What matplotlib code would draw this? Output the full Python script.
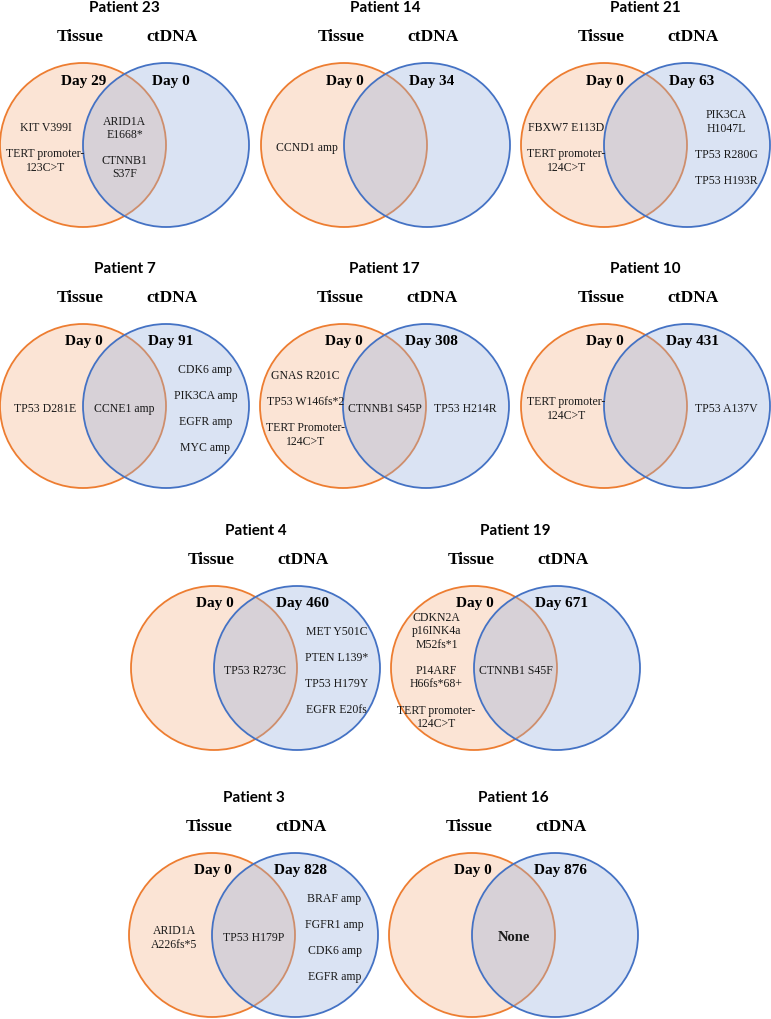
import matplotlib
matplotlib.use("Agg")
import matplotlib.pyplot as plt
from matplotlib.patches import Ellipse

# patient data
patients = [23, 14, 21, 7, 17, 10, 4, 19, 3, 16]
tissue_days = [29, 0, 0, 0, 0, 0, 0, 0, 0, 0]
ctdna_days = [0, 34, 63, 91, 308, 431, 460, 671, 828, 876]

tissue_only = [
    ["KIT V399I", "TERT promoter-\n123C>T"],
    ["CCND1 amp"],
    ["FBXW7 E113D", "TERT promoter-\n124C>T"],
    ["TP53 D281E"],
    ["GNAS R201C", "TP53 W146fs*2", "TERT Promoter-\n124C>T"],
    ["TERT promoter-\n124C>T"],
    [],
    ["CDKN2A\np16INK4a\nM52fs*1", "P14ARF\nH66fs*68+", "TERT promoter-\n124C>T"],
    ["ARID1A\nA226fs*5"],
    [],
]
shared = [
    ["ARID1A\nE1668*", "CTNNB1\nS37F"],
    [],
    [],
    ["CCNE1 amp"],
    ["CTNNB1 S45P"],
    [],
    ["TP53 R273C"],
    ["CTNNB1 S45F"],
    ["TP53 H179P"],
    ["None"],
]
ctdna_only = [
    [],
    [],
    ["PIK3CA\nH1047L", "TP53 R280G", "TP53 H193R"],
    ["CDK6 amp", "PIK3CA amp", "EGFR amp", "MYC amp"],
    ["TP53 H214R"],
    ["TP53 A137V"],
    ["MET Y501C", "PTEN L139*", "TP53 H179Y", "EGFR E20fs"],
    [],
    ["BRAF amp", "FGFR1 amp", "CDK6 amp", "EGFR amp"],
    [],
]

# layout (pixels): orange circle centre x, circle centre y
cx = [83, 344, 604, 83, 343, 604, 214, 474, 212, 472]
cy = [146, 146, 146, 407, 407, 407, 669, 669, 936, 936]
rx, ry = 83, 82

ORANGE = "#ED7D31"
BLUE = "#4472C4"
SERIF = "Liberation Serif"

fig = plt.figure(figsize=(7.71, 10.20), dpi=100)
ax = fig.add_axes([0, 0, 1, 1])
ax.set_xlim(0, 771)
ax.set_ylim(1020, 0)
ax.axis("off")


def stack(items, x, y, bold=False):
    # draw a list of labels stacked vertically around y
    line_h = 13.5
    gap = 12.5
    heights = [len(s.split("\n")) * line_h for s in items]
    total = sum(heights) + gap * (len(items) - 1)
    top = y - total / 2
    for s, h in zip(items, heights):
        ax.text(x, top + h / 2, s, ha="center", va="center", family=SERIF,
                fontsize=10.5 if bold else 8.5,
                fontweight="bold" if bold else "normal",
                linespacing=1.15, color="#1a1a1a")
        top += h + gap


for i, p in enumerate(patients):
    x0, y0 = cx[i], cy[i]
    x1 = x0 + rx
    ax.add_patch(Ellipse((x0, y0), 2 * rx, 2 * ry, facecolor="#FBE4D5",
                         edgecolor=ORANGE, lw=1.3))
    ax.add_patch(Ellipse((x1, y0), 2 * rx, 2 * ry,
                         facecolor=(149 / 255, 175 / 255, 221 / 255, 0.35),
                         edgecolor=BLUE, lw=1.3))

    ax.text((x0 + x1) / 2, y0 - 138, "Patient %d" % p, ha="center", va="center",
            family="Lato", fontweight="bold", fontsize=11)
    ax.text(x0 - 3, y0 - 109, "Tissue", ha="center", va="center",
            family=SERIF, fontweight="bold", fontsize=12.5)
    ax.text(x1 + 6, y0 - 109, "ctDNA", ha="center", va="center",
            family=SERIF, fontweight="bold", fontsize=12.5)
    ax.text(x0 + 1, y0 - 65, "Day %d" % tissue_days[i], ha="center", va="center",
            family=SERIF, fontweight="bold", fontsize=11)
    ax.text(x1 + 5, y0 - 65, "Day %d" % ctdna_days[i], ha="center", va="center",
            family=SERIF, fontweight="bold", fontsize=11)

    stack(tissue_only[i], x0 - rx / 2 + 4, y0 + 2)
    stack(shared[i], (x0 + x1) / 2, y0 + 2, bold=(shared[i] == ["None"]))
    stack(ctdna_only[i], x1 + rx / 2 - 2, y0 + 2)

fig.savefig("out.png", dpi=100)
